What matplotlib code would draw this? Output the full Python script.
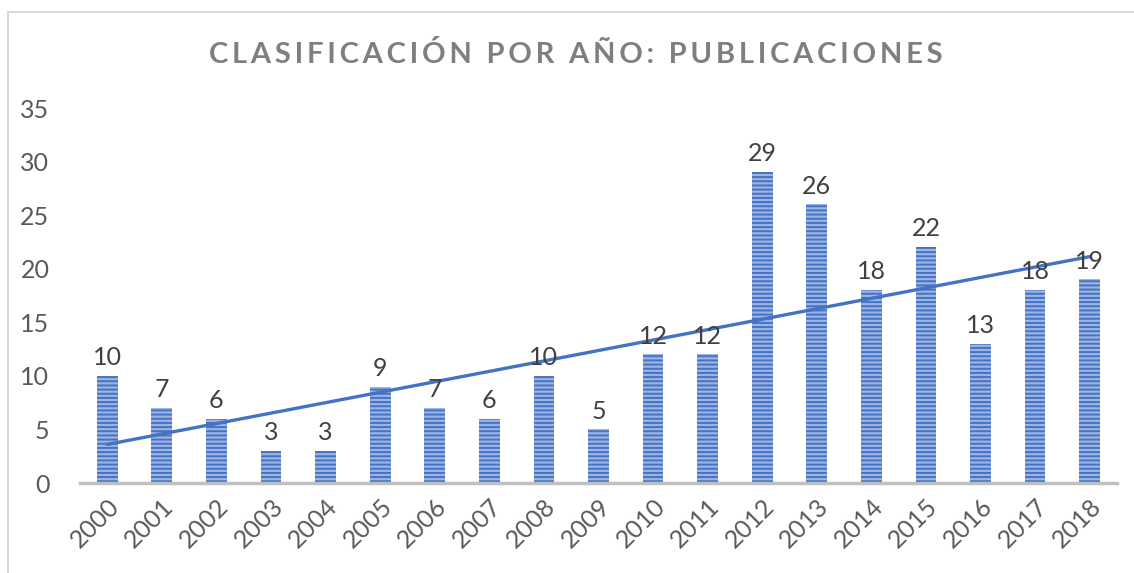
import numpy as np
import matplotlib
matplotlib.use("Agg")
import matplotlib.pyplot as plt
from matplotlib.patches import Rectangle

years = [str(y) for y in range(2000, 2019)]
publicaciones = [10, 7, 6, 3, 3, 9, 7, 6, 10, 5, 12, 12, 29, 26, 18, 22, 13, 18, 19]
yticks = [0, 5, 10, 15, 20, 25, 30, 35]
title = "CLASIFICACIÓN POR AÑO: PUBLICACIONES"

plt.rcParams["font.family"] = ["Lato", "DejaVu Sans"]
plt.rcParams["hatch.linewidth"] = 1.4
blue = "#4472C4"

fig = plt.figure(figsize=(11.34, 5.73), dpi=100)
ax = fig.add_axes([0.0705, 0.157, 0.9145, 0.6545])

x = np.arange(len(years))
ax.bar(x, publicaciones, width=0.38, color="#9DB4E2", edgecolor=blue,
       linewidth=0, hatch="----", zorder=2)

# tendencia lineal
m, b = np.polyfit(x, publicaciones, 1)
ax.plot([x[0], x[-1]], [m * x[0] + b, m * x[-1] + b], color=blue, lw=2.4,
        solid_capstyle="round", zorder=3)

for xi, v in zip(x, publicaciones):
    ax.annotate(str(v), (xi, v), xytext=(0, 5), textcoords="offset points",
                ha="center", va="bottom", fontsize=18, color="#404040", zorder=4)

ax.set_xlim(-0.5, len(years) - 0.5)
ax.set_ylim(0, 35)
ax.set_yticks(yticks)
ax.set_xticks(x, years, rotation=45, ha="right", rotation_mode="anchor")
ax.tick_params(axis="both", length=0, labelsize=18, labelcolor="#595959")
ax.tick_params(axis="y", pad=22)
ax.tick_params(axis="x", pad=8)
for s in ["top", "right", "left"]:
    ax.spines[s].set_visible(False)
ax.spines["bottom"].set_color("#BFBFBF")
ax.spines["bottom"].set_linewidth(2.5)
ax.spines["bottom"].set_zorder(5)

spaced = "\u200a\u200a".join(title)
fig.text(0.508, 0.905, spaced, ha="center", va="center", fontsize=21,
         fontweight="bold", color="#7F7F7F")

# borde del area del grafico
fig.patches.append(Rectangle((8 / 1134, -0.1), 1.2, 1.1 - 12 / 573,
                             transform=fig.transFigure, fill=False,
                             edgecolor="#D9D9D9", lw=1.5))

fig.savefig("out.png", dpi=100)
